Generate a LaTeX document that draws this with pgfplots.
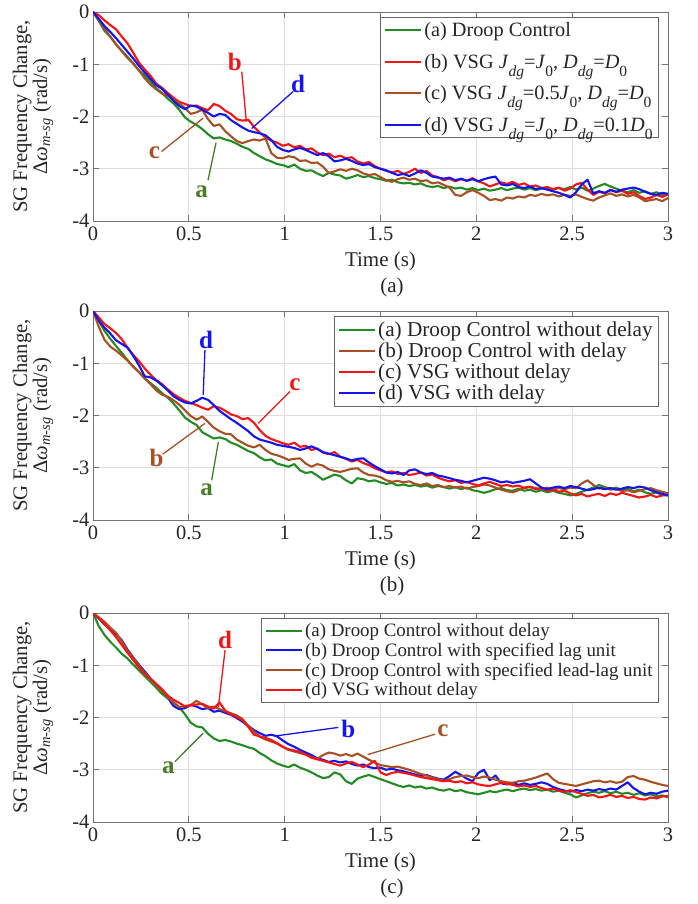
\documentclass[border=0pt]{standalone}
\usepackage{fontspec}
\setmainfont{Liberation Serif}
\usepackage{pgfplots}
\usepackage{pgfplotstable}
\pgfplotsset{compat=1.18}

\definecolor{cgreen}{RGB}{34,139,34}
\definecolor{cred}{RGB}{245,20,20}
\definecolor{cbrown}{RGB}{168,80,35}
\definecolor{cblue}{RGB}{20,20,240}
\definecolor{lgreen}{RGB}{70,125,40}

% lowered subscript as in the legend of panel (a)
\newcommand\sbs[1]{\raisebox{-8pt}{\fontsize{15.5}{15.5}\selectfont #1}}

% panel (a): t, (a) droop, (b) VSG J0 D0, (c) VSG 0.5J0, (d) VSG 0.1D0
\pgfplotstableread{
t a b c d
0.00 0.00 0.00 0.00 0.00
0.03 -0.17 -0.06 -0.15 -0.13
0.06 -0.36 -0.16 -0.32 -0.27
0.09 -0.47 -0.25 -0.47 -0.38
0.12 -0.62 -0.33 -0.62 -0.50
0.15 -0.74 -0.47 -0.75 -0.63
0.18 -0.86 -0.60 -0.88 -0.76
0.21 -0.98 -0.78 -0.99 -0.89
0.24 -1.12 -0.97 -1.12 -1.03
0.27 -1.22 -1.10 -1.27 -1.16
0.30 -1.33 -1.22 -1.39 -1.28
0.33 -1.46 -1.37 -1.48 -1.40
0.36 -1.55 -1.45 -1.56 -1.47
0.39 -1.66 -1.55 -1.60 -1.58
0.42 -1.75 -1.64 -1.68 -1.70
0.45 -1.87 -1.72 -1.75 -1.80
0.48 -2.02 -1.76 -1.84 -1.86
0.51 -2.10 -1.80 -1.95 -1.79
0.54 -2.16 -1.79 -1.92 -1.81
0.57 -2.24 -1.84 -1.87 -1.87
0.60 -2.34 -1.88 -2.05 -1.93
0.63 -2.42 -1.76 -2.18 -2.00
0.66 -2.40 -1.80 -2.15 -1.95
0.69 -2.44 -1.89 -2.28 -1.97
0.72 -2.47 -1.95 -2.38 -2.07
0.75 -2.52 -2.05 -2.47 -2.14
0.78 -2.58 -2.08 -2.51 -2.21
0.81 -2.62 -2.06 -2.47 -2.27
0.84 -2.70 -2.20 -2.44 -2.30
0.87 -2.76 -2.31 -2.46 -2.32
0.90 -2.82 -2.40 -2.42 -2.36
0.93 -2.86 -2.46 -2.70 -2.45
0.96 -2.91 -2.50 -2.79 -2.58
0.99 -2.93 -2.56 -2.80 -2.64
1.02 -2.97 -2.53 -2.76 -2.67
1.05 -2.92 -2.59 -2.78 -2.63
1.08 -3.00 -2.56 -2.85 -2.60
1.11 -3.04 -2.63 -2.84 -2.64
1.14 -3.03 -2.61 -2.89 -2.69
1.17 -3.09 -2.69 -2.88 -2.74
1.20 -3.14 -2.74 -2.96 -2.70
1.23 -3.08 -2.71 -3.08 -2.76
1.26 -3.11 -2.78 -3.05 -2.86
1.29 -3.13 -2.75 -3.01 -2.84
1.32 -3.19 -2.80 -3.04 -2.81
1.35 -3.16 -2.78 -3.00 -2.85
1.38 -3.12 -2.86 -3.03 -2.90
1.41 -3.16 -2.90 -3.09 -2.93
1.44 -3.14 -2.87 -3.12 -2.91
1.47 -3.18 -2.95 -3.10 -2.97
1.50 -3.20 -3.00 -3.16 -3.00
1.53 -3.23 -3.04 -3.22 -3.03
1.56 -3.21 -3.07 -3.25 -3.08
1.59 -3.26 -3.04 -3.20 -3.12
1.62 -3.28 -3.10 -3.17 -3.10
1.65 -3.27 -3.06 -3.21 -3.14
1.68 -3.30 -3.00 -3.19 -3.09
1.71 -3.28 -3.08 -3.24 -3.03
1.74 -3.33 -3.04 -3.22 -3.08
1.77 -3.35 -3.13 -3.28 -3.15
1.80 -3.33 -3.16 -3.26 -3.17
1.83 -3.37 -3.22 -3.31 -3.19
1.86 -3.34 -3.19 -3.36 -3.17
1.89 -3.38 -3.24 -3.50 -3.22
1.92 -3.36 -3.20 -3.52 -3.19
1.95 -3.40 -3.23 -3.45 -3.23
1.98 -3.37 -3.18 -3.41 -3.20
2.01 -3.41 -3.24 -3.46 -3.24
2.04 -3.38 -3.28 -3.52 -3.20
2.07 -3.42 -3.34 -3.60 -3.17
2.10 -3.40 -3.30 -3.58 -3.15
2.13 -3.37 -3.26 -3.61 -3.30
2.16 -3.41 -3.29 -3.55 -3.32
2.19 -3.38 -3.25 -3.57 -3.29
2.22 -3.36 -3.31 -3.53 -3.35
2.25 -3.40 -3.28 -3.55 -3.37
2.28 -3.37 -3.34 -3.50 -3.34
2.31 -3.41 -3.32 -3.52 -3.39
2.34 -3.38 -3.37 -3.48 -3.37
2.37 -3.36 -3.35 -3.51 -3.40
2.40 -3.40 -3.39 -3.49 -3.43
2.43 -3.37 -3.36 -3.53 -3.46
2.46 -3.39 -3.42 -3.50 -3.50
2.49 -3.35 -3.38 -3.52 -3.55
2.52 -3.40 -3.30 -3.49 -3.45
2.55 -3.36 -3.27 -3.54 -3.30
2.58 -3.42 -3.40 -3.58 -3.21
2.61 -3.38 -3.50 -3.61 -3.47
2.64 -3.33 -3.44 -3.55 -3.43
2.67 -3.29 -3.47 -3.51 -3.46
2.70 -3.34 -3.40 -3.47 -3.41
2.73 -3.38 -3.45 -3.52 -3.44
2.76 -3.42 -3.42 -3.49 -3.40
2.79 -3.45 -3.48 -3.53 -3.38
2.82 -3.41 -3.45 -3.50 -3.36
2.85 -3.46 -3.52 -3.55 -3.39
2.88 -3.43 -3.58 -3.62 -3.44
2.91 -3.48 -3.55 -3.60 -3.48
2.94 -3.45 -3.50 -3.58 -3.50
2.97 -3.50 -3.54 -3.62 -3.46
3.00 -3.48 -3.49 -3.56 -3.48
}\tabA

% panel (b): t, (a) droop, (b) droop delay, (c) VSG, (d) VSG delay
\pgfplotstableread{
t a b c d
0.00 0.00 0.00 0.00 0.00
0.03 -0.19 -0.30 -0.12 -0.18
0.06 -0.38 -0.55 -0.25 -0.32
0.09 -0.53 -0.68 -0.33 -0.43
0.12 -0.67 -0.76 -0.42 -0.56
0.15 -0.80 -0.85 -0.54 -0.63
0.18 -0.94 -0.95 -0.70 -0.70
0.21 -1.06 -1.07 -0.84 -0.86
0.24 -1.17 -1.17 -0.96 -1.04
0.27 -1.29 -1.29 -1.10 -1.25
0.30 -1.38 -1.40 -1.22 -1.27
0.33 -1.47 -1.52 -1.32 -1.33
0.36 -1.57 -1.60 -1.40 -1.42
0.39 -1.66 -1.64 -1.50 -1.52
0.42 -1.77 -1.71 -1.59 -1.63
0.45 -1.90 -1.79 -1.66 -1.70
0.48 -2.04 -1.90 -1.72 -1.75
0.51 -2.12 -2.01 -1.76 -1.77
0.54 -2.18 -2.08 -1.80 -1.72
0.57 -2.32 -2.02 -1.85 -1.66
0.60 -2.38 -2.12 -1.89 -1.70
0.63 -2.44 -2.23 -1.82 -1.80
0.66 -2.42 -2.30 -1.85 -1.91
0.69 -2.45 -2.35 -1.91 -1.99
0.72 -2.52 -2.36 -1.98 -2.07
0.75 -2.56 -2.46 -2.01 -2.14
0.78 -2.62 -2.52 -2.07 -2.22
0.81 -2.68 -2.58 -2.05 -2.30
0.84 -2.72 -2.61 -2.14 -2.40
0.87 -2.80 -2.56 -2.28 -2.46
0.90 -2.86 -2.66 -2.39 -2.49
0.93 -2.84 -2.73 -2.45 -2.52
0.96 -2.92 -2.76 -2.49 -2.56
0.99 -2.95 -2.80 -2.53 -2.58
1.02 -2.98 -2.85 -2.56 -2.60
1.05 -2.93 -2.83 -2.52 -2.62
1.08 -3.05 -2.82 -2.60 -2.66
1.11 -3.10 -2.92 -2.58 -2.63
1.14 -3.08 -2.98 -2.66 -2.59
1.17 -3.15 -2.93 -2.63 -2.64
1.20 -3.23 -2.96 -2.71 -2.70
1.23 -3.18 -3.03 -2.74 -2.73
1.26 -3.13 -3.06 -2.70 -2.76
1.29 -3.16 -3.08 -2.79 -2.79
1.32 -3.24 -3.05 -2.83 -2.82
1.35 -3.30 -3.02 -2.88 -2.86
1.38 -3.20 -3.01 -2.85 -2.83
1.41 -3.22 -3.09 -2.91 -2.82
1.44 -3.26 -3.14 -2.95 -2.90
1.47 -3.24 -3.15 -3.01 -2.97
1.50 -3.28 -3.18 -3.05 -3.03
1.53 -3.31 -3.24 -3.09 -3.09
1.56 -3.29 -3.27 -3.07 -3.11
1.59 -3.34 -3.25 -3.12 -3.08
1.62 -3.32 -3.28 -3.10 -3.14
1.65 -3.35 -3.26 -3.14 -3.05
1.68 -3.33 -3.31 -3.12 -3.03
1.71 -3.36 -3.33 -3.09 -3.09
1.74 -3.34 -3.30 -3.15 -3.12
1.77 -3.38 -3.35 -3.13 -3.10
1.80 -3.35 -3.33 -3.19 -3.15
1.83 -3.37 -3.37 -3.23 -3.17
1.86 -3.40 -3.35 -3.26 -3.20
1.89 -3.37 -3.38 -3.24 -3.23
1.92 -3.41 -3.36 -3.29 -3.25
1.95 -3.38 -3.40 -3.27 -3.28
1.98 -3.43 -3.37 -3.31 -3.25
2.01 -3.45 -3.35 -3.34 -3.22
2.04 -3.48 -3.32 -3.30 -3.19
2.07 -3.45 -3.34 -3.27 -3.21
2.10 -3.41 -3.38 -3.31 -3.24
2.13 -3.39 -3.42 -3.35 -3.28
2.16 -3.43 -3.45 -3.33 -3.26
2.19 -3.44 -3.47 -3.36 -3.29
2.22 -3.40 -3.43 -3.34 -3.27
2.25 -3.44 -3.38 -3.39 -3.25
2.28 -3.42 -3.36 -3.37 -3.22
2.31 -3.46 -3.39 -3.41 -3.30
2.34 -3.43 -3.41 -3.39 -3.38
2.37 -3.47 -3.38 -3.44 -3.41
2.40 -3.44 -3.42 -3.42 -3.38
2.43 -3.48 -3.39 -3.46 -3.36
2.46 -3.50 -3.41 -3.44 -3.39
2.49 -3.53 -3.38 -3.49 -3.35
2.52 -3.50 -3.39 -3.53 -3.37
2.55 -3.46 -3.30 -3.50 -3.40
2.58 -3.42 -3.24 -3.55 -3.43
2.61 -3.38 -3.33 -3.52 -3.41
2.64 -3.33 -3.40 -3.50 -3.38
2.67 -3.37 -3.38 -3.54 -3.41
2.70 -3.40 -3.42 -3.49 -3.39
2.73 -3.38 -3.40 -3.52 -3.42
2.76 -3.43 -3.45 -3.48 -3.40
2.79 -3.40 -3.43 -3.51 -3.37
2.82 -3.45 -3.47 -3.54 -3.39
2.85 -3.42 -3.44 -3.57 -3.36
2.88 -3.47 -3.41 -3.55 -3.38
2.91 -3.50 -3.39 -3.52 -3.43
2.94 -3.47 -3.43 -3.56 -3.47
2.97 -3.52 -3.46 -3.53 -3.50
3.00 -3.53 -3.49 -3.52 -3.53
}\tabB

% panel (c): t, (a) droop, (b) lag unit, (c) lead-lag unit, (d) VSG
\pgfplotstableread{
t a b c d
0.00 0.00 0.00 0.00 0.00
0.03 -0.25 -0.10 -0.08 -0.10
0.06 -0.42 -0.22 -0.17 -0.21
0.09 -0.55 -0.30 -0.28 -0.33
0.12 -0.66 -0.40 -0.38 -0.46
0.15 -0.78 -0.52 -0.54 -0.61
0.18 -0.87 -0.70 -0.72 -0.76
0.21 -0.99 -0.85 -0.86 -0.90
0.24 -1.10 -0.99 -1.01 -1.04
0.27 -1.21 -1.12 -1.15 -1.17
0.30 -1.32 -1.25 -1.26 -1.26
0.33 -1.43 -1.36 -1.38 -1.36
0.36 -1.55 -1.47 -1.49 -1.46
0.39 -1.63 -1.62 -1.61 -1.58
0.42 -1.71 -1.78 -1.72 -1.66
0.45 -1.80 -1.84 -1.80 -1.72
0.48 -1.94 -1.82 -1.78 -1.79
0.51 -2.10 -1.76 -1.76 -1.77
0.54 -2.17 -1.79 -1.68 -1.75
0.57 -2.19 -1.84 -1.75 -1.74
0.60 -2.31 -1.82 -1.82 -1.79
0.63 -2.40 -1.89 -1.79 -1.83
0.66 -2.45 -1.87 -1.84 -1.71
0.69 -2.43 -1.91 -1.88 -1.87
0.72 -2.46 -1.95 -1.92 -1.94
0.75 -2.50 -2.01 -1.96 -1.99
0.78 -2.53 -2.08 -2.03 -2.05
0.81 -2.57 -2.16 -2.16 -2.18
0.84 -2.60 -2.24 -2.27 -2.33
0.87 -2.68 -2.30 -2.37 -2.36
0.90 -2.74 -2.35 -2.42 -2.39
0.93 -2.82 -2.33 -2.46 -2.43
0.96 -2.88 -2.36 -2.50 -2.49
0.99 -2.92 -2.44 -2.56 -2.56
1.02 -2.95 -2.51 -2.62 -2.61
1.05 -2.90 -2.56 -2.65 -2.63
1.08 -2.96 -2.62 -2.68 -2.66
1.11 -3.00 -2.67 -2.71 -2.71
1.14 -3.05 -2.72 -2.76 -2.77
1.17 -3.11 -2.78 -2.79 -2.80
1.20 -3.16 -2.81 -2.72 -2.83
1.23 -3.14 -2.85 -2.67 -2.86
1.26 -3.05 -2.83 -2.69 -2.89
1.29 -3.09 -2.86 -2.73 -2.92
1.32 -3.22 -2.84 -2.70 -2.88
1.35 -3.27 -2.89 -2.74 -2.85
1.38 -3.17 -2.92 -2.69 -2.90
1.41 -3.13 -2.90 -2.75 -2.95
1.44 -3.10 -2.95 -2.81 -2.90
1.47 -3.14 -2.97 -2.86 -2.83
1.50 -3.18 -2.96 -2.91 -3.05
1.53 -3.22 -3.00 -2.93 -3.10
1.56 -3.26 -2.98 -2.95 -3.06
1.59 -3.30 -3.01 -2.94 -3.04
1.62 -3.33 -3.03 -2.97 -3.06
1.65 -3.30 -3.06 -3.00 -3.08
1.68 -3.34 -3.09 -3.04 -3.11
1.71 -3.32 -3.12 -3.08 -3.14
1.74 -3.36 -3.10 -3.11 -3.16
1.77 -3.34 -3.14 -3.15 -3.18
1.80 -3.38 -3.17 -3.18 -3.20
1.83 -3.40 -3.19 -3.21 -3.22
1.86 -3.37 -3.12 -3.18 -3.21
1.89 -3.41 -3.04 -3.14 -3.24
1.92 -3.39 -3.10 -3.12 -3.22
1.95 -3.43 -3.17 -3.11 -3.26
1.98 -3.45 -3.22 -3.14 -3.24
2.01 -3.47 -3.06 -3.16 -3.28
2.04 -3.44 -3.00 -3.13 -3.30
2.07 -3.41 -3.20 -3.15 -3.31
2.10 -3.43 -3.11 -3.19 -3.28
2.13 -3.40 -3.26 -3.22 -3.25
2.16 -3.38 -3.28 -3.24 -3.27
2.19 -3.41 -3.25 -3.25 -3.29
2.22 -3.38 -3.29 -3.22 -3.32
2.25 -3.36 -3.26 -3.21 -3.30
2.28 -3.39 -3.29 -3.18 -3.33
2.31 -3.37 -3.27 -3.15 -3.31
2.34 -3.40 -3.24 -3.11 -3.35
2.37 -3.38 -3.27 -3.07 -3.38
2.40 -3.42 -3.33 -3.18 -3.36
2.43 -3.40 -3.37 -3.25 -3.40
2.46 -3.44 -3.40 -3.27 -3.42
2.49 -3.47 -3.42 -3.29 -3.39
2.52 -3.53 -3.39 -3.31 -3.43
2.55 -3.49 -3.41 -3.28 -3.46
2.58 -3.45 -3.38 -3.25 -3.50
2.61 -3.42 -3.40 -3.22 -3.48
2.64 -3.44 -3.37 -3.21 -3.53
2.67 -3.41 -3.39 -3.24 -3.51
2.70 -3.45 -3.36 -3.22 -3.48
2.73 -3.42 -3.38 -3.25 -3.52
2.76 -3.46 -3.31 -3.23 -3.50
2.79 -3.44 -3.24 -3.14 -3.54
2.82 -3.48 -3.35 -3.12 -3.52
2.85 -3.45 -3.42 -3.17 -3.56
2.88 -3.49 -3.47 -3.19 -3.57
2.91 -3.47 -3.44 -3.23 -3.53
2.94 -3.51 -3.46 -3.26 -3.55
2.97 -3.49 -3.42 -3.29 -3.51
3.00 -3.53 -3.40 -3.31 -3.50
}\tabC

\pgfplotsset{
  legend image code/.code={\draw[#1,line width=2pt] (0pt,0pt) -- (36pt,0pt);},
  panel/.style={
    scale only axis, width=575pt, height=209pt,
    xmin=0, xmax=3, ymin=-4, ymax=0,
    xtick={0,0.5,1,1.5,2,2.5,3}, ytick={-4,-3,-2,-1,0},
    grid=major, major grid style={black!13, line width=0.7pt},
    axis line style={black!55, line width=0.9pt},
    tick style={black!55, line width=0.9pt}, major tick length=6pt,
    tick align=inside,
    tick label style={font=\fontsize{20.5}{21}\selectfont, text=black!85},
    xticklabel style={yshift=-2pt},
    /pgf/number format/assume math mode=true,
    ylabel={SG Frequency Change,\\Δ\textit{ω}\textsubscript{\textit{m-sg}} (rad/s)},
    ylabel style={at={(rel axis cs:0,0.5)}, anchor=center, yshift=60pt,
      align=center, font=\fontsize{20.7}{20}\selectfont, text=black!85},
    xlabel={Time (s)},
    xlabel style={at={(rel axis cs:0.5,0)}, anchor=center, yshift=-40pt,
      font=\fontsize{21}{21}\selectfont, text=black!85},
    legend cell align=left,
    legend style={at={(1,1)}, anchor=north east, xshift=-9pt, yshift=-5pt,
      draw=black!60, line width=0.8pt, fill=white, text=black!85,
      inner xsep=4pt, inner ysep=3pt},
    clip mode=individual,
    every axis plot/.append style={line width=2.1pt, line join=round},
  },
}
\tikzset{
  tag/.style={font=\bfseries\fontsize{25}{25}\selectfont},
  lead/.style={line width=1.3pt},
  subcap/.style={font=\fontsize{21}{21}\selectfont, text=black!85},
}

\begin{document}
\begin{tikzpicture}
\useasboundingbox (0,0) rectangle (698pt,-904pt);

% ---------------- (a)
\begin{axis}[panel, at={(93pt,-12pt)}, anchor=north west,
  legend style={font=\fontsize{20.3}{21}\selectfont, row sep=12pt}]
  \addplot[cgreen] table[x=t,y=a]{\tabA};
  \addlegendentry{(a) Droop Control}
  \addplot[cred] table[x=t,y=b]{\tabA};
  \addlegendentry{(b) VSG \textit{J}\sbs{\textit{dg}}=\textit{J}\sbs{0}, \textit{D}\sbs{\textit{dg}}=\textit{D}\sbs{0}}
  \addplot[cbrown] table[x=t,y=c]{\tabA};
  \addlegendentry{(c) VSG \textit{J}\sbs{\textit{dg}}=0.5\textit{J}\sbs{0}, \textit{D}\sbs{\textit{dg}}=\textit{D}\sbs{0}}
  \addplot[cblue] table[x=t,y=d]{\tabA};
  \addlegendentry{(d) VSG \textit{J}\sbs{\textit{dg}}=\textit{J}\sbs{0}, \textit{D}\sbs{\textit{dg}}=0.1\textit{D}\sbs{0}}
  \draw[cred,lead] (axis cs:0.776,-1.14) -- (axis cs:0.80,-2.10);
  \node[tag,text=cred] at (axis cs:0.74,-0.95) {b};
  \draw[cblue,lead] (axis cs:1.045,-1.52) -- (axis cs:0.828,-2.23);
  \node[tag,text=cblue] at (axis cs:1.07,-1.38) {d};
  \draw[cbrown,lead] (axis cs:0.358,-2.67) -- (axis cs:0.575,-2.03);
  \node[tag,text=cbrown] at (axis cs:0.32,-2.70) {c};
  \draw[lgreen,lead] (axis cs:0.60,-3.22) -- (axis cs:0.642,-2.50);
  \node[tag,text=lgreen] at (axis cs:0.567,-3.44) {a};
  \node[subcap] at (rel axis cs:0.52,0) [yshift=-66pt] {(a)};
\end{axis}

% ---------------- (b)
\begin{axis}[panel, at={(93pt,-311pt)}, anchor=north west,
  legend style={font=\fontsize{21.2}{22}\selectfont, row sep=1pt}]
  \addplot[cgreen] table[x=t,y=a]{\tabB};
  \addlegendentry{(a) Droop Control without delay}
  \addplot[cbrown] table[x=t,y=b]{\tabB};
  \addlegendentry{(b) Droop Control with delay}
  \addplot[cred] table[x=t,y=c]{\tabB};
  \addlegendentry{(c) VSG without delay}
  \addplot[cblue] table[x=t,y=d]{\tabB};
  \addlegendentry{(d) VSG with delay}
  \draw[cblue,lead] (axis cs:0.584,-0.75) -- (axis cs:0.575,-1.61);
  \node[tag,text=cblue] at (axis cs:0.59,-0.555) {d};
  \draw[cred,lead] (axis cs:1.028,-1.54) -- (axis cs:0.862,-2.15);
  \node[tag,text=cred] at (axis cs:1.054,-1.42) {c};
  \draw[cbrown,lead] (axis cs:0.364,-2.74) -- (axis cs:0.584,-2.15);
  \node[tag,text=cbrown] at (axis cs:0.332,-2.82) {b};
  \draw[lgreen,lead] (axis cs:0.619,-3.24) -- (axis cs:0.654,-2.51);
  \node[tag,text=lgreen] at (axis cs:0.593,-3.43) {a};
  \node[subcap] at (rel axis cs:0.52,0) [yshift=-66pt] {(b)};
\end{axis}

% ---------------- (c)
\begin{axis}[panel, at={(93pt,-613pt)}, anchor=north west,
  legend style={font=\fontsize{18.9}{19}\selectfont, row sep=1pt}]
  \addplot[cgreen] table[x=t,y=a]{\tabC};
  \addlegendentry{(a) Droop Control without delay}
  \addplot[cblue] table[x=t,y=b]{\tabC};
  \addlegendentry{(b) Droop Control with specified lag unit}
  \addplot[cbrown] table[x=t,y=c]{\tabC};
  \addlegendentry{(c) Droop Control with specified lead-lag unit}
  \addplot[cred] table[x=t,y=d]{\tabC};
  \addlegendentry{(d) VSG without delay}
  \draw[cred,lead] (axis cs:0.689,-0.71) -- (axis cs:0.654,-1.80);
  \node[tag,text=cred] at (axis cs:0.689,-0.52) {d};
  \draw[cblue,lead] (axis cs:1.28,-2.19) -- (axis cs:0.958,-2.35);
  \node[tag,text=cblue] at (axis cs:1.332,-2.22) {b};
  \draw[lgreen,lead] (axis cs:0.428,-2.84) -- (axis cs:0.575,-2.30);
  \node[tag,text=lgreen] at (axis cs:0.393,-2.97) {a};
  \draw[cbrown,lead] (axis cs:1.784,-2.32) -- (axis cs:1.433,-2.71);
  \node[tag,text=cbrown] at (axis cs:1.826,-2.26) {c};
  \node[subcap] at (rel axis cs:0.52,0) [yshift=-66pt] {(c)};
\end{axis}
\end{tikzpicture}
\end{document}
